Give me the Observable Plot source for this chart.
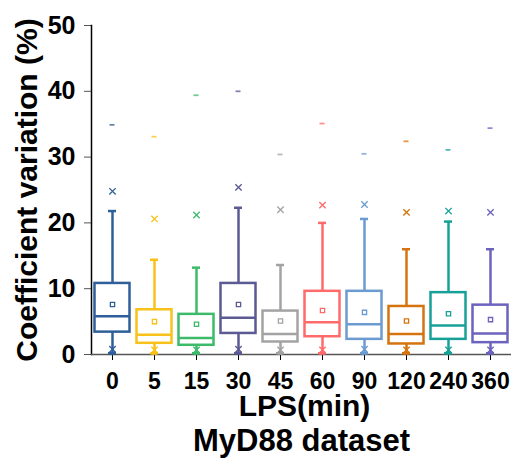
<!DOCTYPE html>
<html><head><meta charset="utf-8">
<script src="https://cdn.jsdelivr.net/npm/d3@7"></script>
<script src="https://cdn.jsdelivr.net/npm/@observablehq/plot@0.6"></script>
<style>
body{margin:0;background:#fff}
#chart svg{font-family:"Liberation Sans",Arial,sans-serif;font-weight:bold}
</style>
</head><body><div id="chart"></div>
<script>
const categories = ["0","5","15","30","45","60","90","120","240","360"];
const colors = ["#2f5f98","#f8c21a","#3dbb6b","#5b5a93","#a3a3a3","#ff6b6b","#6b9bd1","#d5740f","#17a098","#6b63bd"];
const maxVals     = [34.9, 33.1, 39.4, 40.0, 30.4, 35.1, 30.5, 32.4, 31.1, 34.4];
const p99Vals     = [24.8, 20.6, 21.2, 25.4, 22.0, 22.7, 22.8, 21.6, 21.8, 21.6];
const whiskerHigh = [21.8, 14.4, 13.2, 22.3, 13.6, 20.0, 20.6, 16.0, 20.2, 16.0];
const q3Vals      = [10.8, 6.8, 6.1, 10.8, 6.6, 9.6, 9.6, 7.3, 9.4, 7.5];
const meanVals    = [7.6, 5.0, 4.6, 7.6, 5.1, 6.7, 6.4, 5.1, 6.2, 5.3];
const medianVals  = [5.8, 3.0, 2.5, 5.6, 3.1, 4.9, 4.6, 3.1, 4.4, 3.2];
const q1Vals      = [3.4, 1.7, 1.4, 3.2, 1.9, 2.7, 2.3, 1.6, 2.3, 1.8];
const whiskerLow  = [0.2, 0.2, 0.2, 0.2, 0.2, 0.2, 0.2, 0.2, 0.2, 0.2];
const p1Vals      = [0.8, 0.7, 0.7, 0.8, 0.7, 0.7, 0.8, 0.7, 0.7, 0.7];
const minVals     = [0.05, 0.05, 0.05, 0.05, 0.05, 0.05, 0.05, 0.05, 0.05, 0.05];
const yTicks = [0, 10, 20, 30, 40, 50];

const rows = categories.map((c, i) => ({
  c, max: maxVals[i], p99: p99Vals[i], wh: whiskerHigh[i], q3: q3Vals[i],
  mean: meanVals[i], med: medianVals[i], q1: q1Vals[i], wl: whiskerLow[i],
  p1: p1Vals[i], min: minVals[i]
}));

const boxInset = 3.5, capInset = 17, dashInset = 18.5;

const chart = Plot.plot({
  width: 512, height: 459,
  marginLeft: 91, marginRight: 1, marginTop: 25, marginBottom: 105,
  style: {fontFamily: '"Liberation Sans", Arial, sans-serif', fontWeight: "bold", background: "white", color: "black", overflow: "visible"},
  x: {domain: categories, padding: 0, label: null},
  y: {domain: [0, 50], label: null},
  color: {domain: categories, range: colors},
  marks: [
    Plot.axisY({ticks: yTicks, tickSize: 7, tickPadding: 9, fontSize: 25, label: null, stroke: "#555", fill: "black"}),
    Plot.axisX({tickSize: 6, tickPadding: 12, fontSize: 23, label: null, stroke: "black", fill: "black"}),
    Plot.frame({anchor: "left", stroke: "black", strokeWidth: 1.5}),
    Plot.ruleY([0], {stroke: "#555", strokeWidth: 1.5}),
    Plot.ruleX(rows, {x: "c", y1: "wl", y2: "wh", stroke: "c", strokeWidth: 2.5}),
    Plot.barY(rows, {x: "c", y1: "q1", y2: "q3", fill: "white", stroke: "c", strokeWidth: 2.5, insetLeft: boxInset, insetRight: boxInset}),
    Plot.tickY(rows, {x: "c", y: "med", stroke: "c", strokeWidth: 2.5, insetLeft: boxInset, insetRight: boxInset}),
    Plot.tickY(rows, {x: "c", y: "wh", stroke: "c", strokeWidth: 2.5, insetLeft: capInset, insetRight: capInset}),
    Plot.tickY(rows, {x: "c", y: "wl", stroke: "c", strokeWidth: 2.5, insetLeft: capInset, insetRight: capInset}),
    Plot.dot(rows, {x: "c", y: "mean", symbol: "square", r: 2.4, stroke: "c", strokeWidth: 1.3, fill: "white"}),
    Plot.dot(rows, {x: "c", y: "p99", symbol: "times", r: 3, stroke: "c", strokeWidth: 1.3}),
    Plot.dot(rows, {x: "c", y: "p1", symbol: "times", r: 3, stroke: "c", strokeWidth: 1.3}),
    Plot.tickY(rows, {x: "c", y: "max", stroke: "c", strokeWidth: 1.8, strokeOpacity: 0.75, insetLeft: dashInset, insetRight: dashInset}),
    Plot.tickY(rows, {x: "c", y: "min", stroke: "c", strokeWidth: 1.8, strokeOpacity: 0.75, insetLeft: dashInset, insetRight: dashInset}),
    Plot.text(["Coefficient variation (%)"], {frameAnchor: "left", textAnchor: "middle", rotate: -90, dx: -64, fontSize: 30, fontWeight: "bold", fill: "black"}),
    Plot.text(["LPS(min)"], {frameAnchor: "bottom", dy: 61, dx: 3, fontSize: 30, fontWeight: "bold", fill: "black"}),
    Plot.text(["MyD88 dataset"], {frameAnchor: "bottom", dy: 96, fontSize: 31, fontWeight: "bold", fill: "black"})
  ]
});
document.getElementById("chart").appendChild(chart);
</script>
</body></html>
